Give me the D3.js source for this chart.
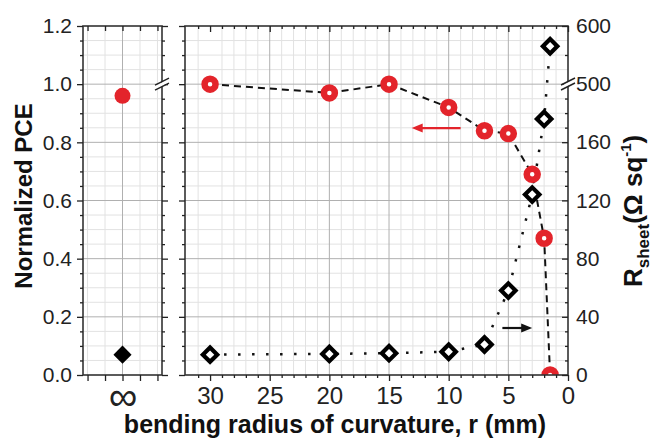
<!DOCTYPE html>
<meta charset="utf-8">
<style>
body { margin: 0; background: #fff; }
text { font-family: "Liberation Sans", Arial, sans-serif; }
.grid-minor line { stroke: #e2e2e2; stroke-width: 1; }
.grid-major line { stroke: #b0b0b0; stroke-width: 1; }
.axis path { display: none; }
.axis line { stroke: #222; stroke-width: 1.3; }
.axis text { font-size: 21px; fill: #222; }
.frame { fill: none; stroke: #333; stroke-width: 1.6; }
.title { font-weight: bold; fill: #111; }
</style>
<svg width="657" height="442"></svg>
<script src="https://d3js.org/d3.v7.min.js"></script>
<script>

// bending radius (mm) and the two series
var radius = [30, 20, 15, 10, 7, 5, 3, 2, 1.5];
var pce    = [1.0, 0.97, 1.0, 0.92, 0.84, 0.83, 0.69, 0.47, 0.0];
var rsheet = [14, 14.5, 15, 16, 21, 58, 124, 176, 565];

// flat (unbent) sample, shown at "infinity"
var flatPce = 0.96;
var flatRsheet = 14;

var pceTicks = [0, 0.2, 0.4, 0.6, 0.8, 1.0, 1.2];
var radiusTicks = [30, 25, 20, 15, 10, 5, 0];
var rsheetTicks = [0, 40, 80, 120, 160, 500, 600];

var red = "#e3242b";

var svg = d3.select("svg");

var top_ = 26, bottom = 375;

var y = d3.scaleLinear().domain([0, 1.2]).range([bottom, top_]);
// right axis is broken between 200 and 500
var yR = d3.scaleLinear().domain([0, 200, 500, 600]).range([bottom, 84, 84, top_]);

var x = d3.scaleLinear().domain([32.1, 0]).range([185, 568]);
var xInf = d3.scaleLinear().domain([-2.26, 2.26]).range([83, 162]);

var minorY = d3.range(0.05, 1.2, 0.05).filter(function(v) { return Math.abs(v * 5 - Math.round(v * 5)) > 1e-6; });
var minorX = d3.range(1, 32).filter(function(v) { return v % 5 != 0; });
var minorR = d3.range(10, 200, 10).filter(function(v) { return v % 40 != 0; }).concat([550]);

function panelGrid(xs, x0, x1, majorX, minX) {
  var g = svg.append("g");
  g.append("rect").attr("x", x0).attr("y", top_).attr("width", x1 - x0).attr("height", bottom - top_).attr("fill", "#fff");
  g.append("g").attr("class", "grid-minor").selectAll("line")
    .data(minX).enter().append("line")
      .attr("x1", xs).attr("x2", xs).attr("y1", top_).attr("y2", bottom);
  g.append("g").attr("class", "grid-minor").selectAll("line")
    .data(minorY).enter().append("line")
      .attr("x1", x0).attr("x2", x1).attr("y1", y).attr("y2", y);
  g.append("g").attr("class", "grid-major").selectAll("line")
    .data(majorX).enter().append("line")
      .attr("x1", xs).attr("x2", xs).attr("y1", top_).attr("y2", bottom);
  g.append("g").attr("class", "grid-major").selectAll("line")
    .data(pceTicks.slice(1, -1)).enter().append("line")
      .attr("x1", x0).attr("x2", x1).attr("y1", y).attr("y2", y);
}

panelGrid(xInf, 83, 162, [0], [-2, -1, 1, 2]);
panelGrid(x, 185, 568, radiusTicks.slice(1, -1), minorX);

svg.append("clipPath").attr("id", "clipMain")
  .append("rect").attr("x", 185).attr("y", top_).attr("width", 383).attr("height", bottom - top_);

var pts = d3.zip(radius, pce, rsheet).map(function(d) { return {r: d[0], p: d[1], s: d[2]}; });

var main = svg.append("g").attr("clip-path", "url(#clipMain)");

main.append("path")
    .datum(pts)
    .attr("fill", "none")
    .attr("stroke", "#111")
    .attr("stroke-width", 2.5)
    .attr("stroke-dasharray", "2.5,11.5")
    .attr("d", d3.line().x(function(d) { return x(d.r); }).y(function(d) { return yR(d.s); }));

main.append("path")
    .datum(pts)
    .attr("fill", "none")
    .attr("stroke", "#111")
    .attr("stroke-width", 2)
    .attr("stroke-dasharray", "7,5")
    .attr("d", d3.line().x(function(d) { return x(d.r); }).y(function(d) { return y(d.p); }));

var diamond = d3.symbol().type(d3.symbolSquare).size(104);

main.selectAll(".rs")
    .data(pts).enter().append("path")
    .attr("class", "rs")
    .attr("d", diamond)
    .attr("transform", function(d) { return "translate(" + x(d.r) + "," + yR(d.s) + ") rotate(45)"; })
    .attr("fill", "#fff")
    .attr("stroke", "#000")
    .attr("stroke-width", 4.2);

main.selectAll(".pc")
    .data(pts).enter().append("circle")
    .attr("class", "pc")
    .attr("cx", function(d) { return x(d.r); })
    .attr("cy", function(d) { return y(d.p); })
    .attr("r", 5.5)
    .attr("fill", "#fff")
    .attr("stroke", red)
    .attr("stroke-width", 6.5);

// flat sample
svg.append("path")
    .attr("d", d3.symbol().type(d3.symbolSquare).size(165))
    .attr("transform", "translate(" + xInf(0) + "," + yR(flatRsheet) + ") rotate(45)")
    .attr("fill", "#000");

svg.append("circle")
    .attr("cx", xInf(0)).attr("cy", y(flatPce)).attr("r", 8)
    .attr("fill", red);

// frames
svg.append("rect").attr("class", "frame").attr("x", 83).attr("y", top_).attr("width", 79).attr("height", bottom - top_);
svg.append("rect").attr("class", "frame").attr("x", 185).attr("y", top_).attr("width", 383).attr("height", bottom - top_);

function addAxis(axis, tx, ty) {
  return svg.append("g").attr("class", "axis").attr("transform", "translate(" + tx + "," + ty + ")").call(axis);
}

// left panel axes
addAxis(d3.axisLeft(y).tickValues(pceTicks).tickSize(6).tickPadding(5).tickFormat(d3.format(".1f")), 83, 0);
addAxis(d3.axisLeft(y).tickValues(minorY).tickSize(3).tickFormat(""), 83, 0);
addAxis(d3.axisRight(y).tickValues(pceTicks).tickSize(6).tickFormat(""), 162, 0);
addAxis(d3.axisRight(y).tickValues(minorY).tickSize(3).tickFormat(""), 162, 0);
var infAxis = addAxis(d3.axisBottom(xInf).tickValues([-2, -1, 0, 1, 2]).tickSize(6).tickPadding(6)
    .tickFormat(function(d) { return d === 0 ? "\u221e" : ""; }), 0, bottom);
infAxis.selectAll("text").style("font-size", "40px").attr("dy", "0.58em");
addAxis(d3.axisTop(xInf).tickValues([-2, -1, 0, 1, 2]).tickSize(-5).tickFormat(""), 0, top_);

// main panel axes
addAxis(d3.axisLeft(y).tickValues(pceTicks).tickSize(6).tickFormat(""), 185, 0);
addAxis(d3.axisLeft(y).tickValues(minorY).tickSize(3).tickFormat(""), 185, 0);
var xAxis = addAxis(d3.axisBottom(x).tickValues(radiusTicks).tickSize(6).tickPadding(6), 0, bottom);
xAxis.selectAll("text").style("font-size", "24px");
addAxis(d3.axisBottom(x).tickValues(minorX).tickSize(3).tickFormat(""), 0, bottom);
addAxis(d3.axisTop(x).tickValues(radiusTicks).tickSize(-6).tickFormat(""), 0, top_);
addAxis(d3.axisTop(x).tickValues(minorX).tickSize(-3).tickFormat(""), 0, top_);
addAxis(d3.axisRight(yR).tickValues(rsheetTicks).tickSize(-6).tickPadding(8), 568, 0);
addAxis(d3.axisRight(yR).tickValues(minorR).tickSize(-3).tickFormat(""), 568, 0);

// axis break marks
function breakMark(cx, cy) {
  var g = svg.append("g").attr("transform", "translate(" + cx + "," + cy + ")");
  g.append("polygon").attr("points", "-7,3 7,-5 7,-1 -7,7").attr("fill", "#fff").attr("transform", "translate(0,-1)");
  g.append("line").attr("x1", -7).attr("y1", 1).attr("x2", 7).attr("y2", -6).attr("stroke", "#222").attr("stroke-width", 1.4);
  g.append("line").attr("x1", -7).attr("y1", 6).attr("x2", 7).attr("y2", -1).attr("stroke", "#222").attr("stroke-width", 1.4);
}
breakMark(162, y(1.0));
breakMark(568, yR(200));

// arrows
function arrow(r0, r1, yy, color) {
  var x0 = x(r0), x1 = x(r1), dir = x1 > x0 ? 1 : -1;
  svg.append("line").attr("x1", x0).attr("y1", yy).attr("x2", x1 - dir * 8).attr("y2", yy)
    .attr("stroke", color).attr("stroke-width", 2.2);
  svg.append("polygon")
    .attr("points", [[x1, yy], [x1 - dir * 11, yy - 4.5], [x1 - dir * 11, yy + 4.5]].join(" "))
    .attr("fill", color);
}
arrow(9.0, 13.1, y(0.849), red);
arrow(5.5, 3.0, yR(32.3), "#111");

// titles
svg.append("text").attr("class", "title")
    .attr("transform", "translate(32,196) rotate(-90)")
    .attr("text-anchor", "middle")
    .style("font-size", "24px")
    .text("Normalized PCE");

svg.append("text").attr("class", "title")
    .attr("x", 335).attr("y", 433)
    .attr("text-anchor", "middle")
    .style("font-size", "25px")
    .text("bending radius of curvature, r (mm)");

var rt = svg.append("text").attr("class", "title")
    .attr("transform", "translate(642,287) rotate(-90)")
    .style("font-size", "26px");
rt.append("tspan").text("R");
rt.append("tspan").attr("dy", 7).style("font-size", "17px").text("sheet");
rt.append("tspan").attr("dy", -7).text("(\u03a9 sq");
rt.append("tspan").attr("dy", -11).style("font-size", "15px").text("-1");
rt.append("tspan").attr("dy", 11).text(")");

</script>
